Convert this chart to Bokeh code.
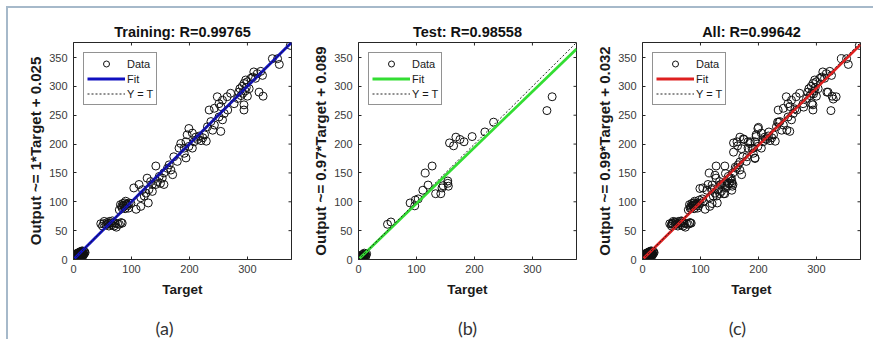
from bokeh.plotting import figure
from bokeh.models import Range1d, FixedTicker, Legend, LegendItem, Label, ColumnDataSource
from bokeh.layouts import row, column
from bokeh.embed import file_html
from bokeh.resources import INLINE

# ---------------- data ----------------
train_target = [0, 1, 1, 2, 2, 3, 3, 4, 4, 5, 5, 6, 6, 7, 7, 8, 8, 9, 9, 10, 10, 11, 11, 12, 12, 13, 13, 14, 14, 15,
                15, 16, 16, 17, 18, 19, 20, 2, 4, 6, 8, 10, 12, 14, 16, 18, 3, 5, 7, 9, 11, 13, 1, 0, 15, 17,
                47, 50, 53, 56, 58, 61, 62, 64, 66, 67, 70, 72, 74, 76, 79, 82, 84, 52, 68, 60,
                79, 81, 84, 85, 87, 88, 89, 90, 91, 93, 95, 96, 99, 86, 92, 83,
                104, 108, 116, 113, 116, 129, 119, 122, 125, 127, 130, 133, 136, 136, 142, 142, 145, 148, 150, 153,
                156, 156, 162, 165, 168, 171, 173, 179, 182, 185, 191, 191, 194, 194, 196, 199, 199, 205, 205, 208,
                211, 214, 217, 220, 223, 226, 229, 231, 234, 237, 240, 243, 243, 248, 251, 251, 254, 254, 257, 257,
                260, 265, 266, 271, 277, 283, 285, 287, 289, 291, 292, 294, 294, 294, 296, 297, 298, 300, 300, 303,
                306, 309, 311, 314, 317, 320, 323, 326, 327, 343, 352, 355, 374]
train_output = [1, 0, 3, 2, 5, 1, 4, 3, 6, 2, 5, 4, 8, 3, 6, 5, 9, 4, 7, 6, 10, 5, 9, 8, 11, 7, 10, 9, 12, 8,
                13, 10, 12, 11, 9, 13, 12, 7, 8, 1, 2, 3, 4, 5, 6, 14, 9, 10, 11, 12, 13, 14, 6, 4, 15, 8,
                62, 58, 66, 60, 64, 58, 66, 63, 60, 67, 58, 63, 56, 62, 61, 64, 63, 62, 63, 62,
                86, 95, 89, 97, 92, 98, 88, 101, 95, 93, 89, 98, 97, 94, 96, 92,
                124, 87, 92, 130, 107, 98, 121, 110, 115, 141, 121, 135, 118, 130, 130, 162, 135, 144, 132, 141,
                130, 150, 158, 164, 155, 147, 178, 170, 193, 201, 193, 184, 204, 176, 216, 196, 227, 193, 219, 204,
                212, 208, 214, 206, 211, 216, 205, 230, 259, 239, 224, 233, 262, 282, 270, 247, 222, 265, 276, 242,
                253, 282, 259, 288, 270, 279, 290, 296, 284, 300, 288, 305, 268, 259, 292, 311, 298, 308, 283, 296,
                314, 316, 325, 314, 322, 290, 326, 319, 283, 348, 348, 338, 371]

val_target = [3, 6, 9, 12, 15, 5,
              51, 68, 82, 88, 82,
              99, 105, 120, 120, 125, 128, 134, 140, 143, 148, 151, 154, 157, 160, 163, 168, 171, 174, 180,
              186, 189, 194, 200, 212, 235, 249, 263, 278, 292, 295, 318, 329]
val_output = [4, 3, 6, 10, 9, 8,
              63, 66, 63, 94, 89,
              123, 101, 123, 97, 146, 110, 129, 114, 149, 132, 140, 120, 186, 160, 204, 169, 192, 209, 178,
              204, 192, 175, 229, 209, 238, 224, 261, 264, 270, 287, 290, 278]

test_target = [1, 2, 3, 4, 5, 6, 7, 8, 9, 10, 11, 12, 13, 14, 2, 4, 6, 8, 10, 12, 3, 5, 7, 9,
               50, 56, 89, 97, 98, 103, 111, 115, 120, 127, 133, 142, 144, 146, 154, 154, 155,
               157, 164, 168, 175, 182, 196, 218, 233, 325, 334]
test_output = [2, 1, 3, 2, 5, 4, 6, 5, 7, 6, 8, 9, 7, 10, 4, 6, 8, 9, 11, 4, 0, 2, 3, 3,
               61, 65, 98, 93, 103, 105, 120, 150, 129, 162, 114, 114, 124, 128, 132, 136, 127,
               202, 197, 212, 208, 204, 213, 221, 238, 258, 282]

all_target = train_target + val_target + test_target
all_output = train_output + val_output + test_output

titles = ["Training: R=0.99765", "Test: R=0.98558", "All: R=0.99642"]
ylabels = ["Output ~= 1*Target + 0.025", "Output ~= 0.97*Target + 0.089", "Output ~= 0.99*Target + 0.032"]
fit_slope = [1.0, 0.97, 0.99]
fit_intercept = [0.025, 0.089, 0.032]
captions = ["(a)", "(b)", "(c)"]
limits = [0, 376]
x_ticks = [0, 100, 200, 300]
y_ticks = [0, 50, 100, 150, 200, 250, 300, 350]

# ---------------- style ----------------
FONT = "Liberation Sans"
AX = "#262626"
fit_colors = ["#1010c0", "#33dd33", "#de2020"]
widths = [292, 285, 288]
border_left = [65, 58, 57]
cap_x = [91, 109, 95]          # caption centre, px from the frame's left edge
MAIN_H = 300
CAP_H = 31


def panel(i, tx, ty):
    p = figure(width=widths[i], height=MAIN_H,
               x_range=Range1d(*limits), y_range=Range1d(*limits),
               output_backend="svg", toolbar_location=None,
               min_border_left=border_left[i], min_border_right=widths[i] - border_left[i] - 218,
               min_border_top=34, min_border_bottom=MAIN_H - 34 - 217)
    p.grid.visible = False
    p.outline_line_color = AX
    p.outline_line_width = 1
    p.outline_line_alpha = 1

    p.title.text = titles[i]
    p.title.align = "center"
    p.title.text_font = FONT
    p.title.text_font_size = "14.5px"
    p.title.text_font_style = "bold"
    p.title.text_color = "#111111"
    p.title.standoff = 6

    for ax in (p.xaxis[0], p.yaxis[0]):
        ax.major_tick_in = 3
        ax.major_tick_out = 0
        ax.minor_tick_line_color = None
        ax.axis_line_color = AX
        ax.major_tick_line_color = AX
        ax.major_label_text_font = FONT
        ax.major_label_text_font_size = "11px"
        ax.major_label_text_color = "#3a3a3a"
        ax.axis_label_text_font = FONT
        ax.axis_label_text_font_style = "bold"
        ax.axis_label_text_color = "#1a1a1a"
    p.xaxis[0].ticker = FixedTicker(ticks=x_ticks)
    p.yaxis[0].ticker = FixedTicker(ticks=y_ticks)
    p.xaxis[0].axis_label = "Target"
    p.xaxis[0].axis_label_text_font_size = "13.5px"
    p.xaxis[0].major_label_standoff = 5
    p.xaxis[0].axis_label_standoff = 6
    p.yaxis[0].axis_label = ylabels[i]
    p.yaxis[0].axis_label_text_font_size = "15px"
    p.yaxis[0].major_label_standoff = 6
    p.yaxis[0].axis_label_standoff = 2

    # inward tick marks on the top and right edges (box axes)
    p.ray(x=x_ticks, y=[limits[1]] * len(x_ticks), length=3, length_units="screen",
          angle=-90, angle_units="deg", line_color=AX, line_width=1)
    p.ray(x=[limits[1]] * len(y_ticks), y=y_ticks, length=3, length_units="screen",
          angle=180, angle_units="deg", line_color=AX, line_width=1)

    src = ColumnDataSource(dict(x=tx, y=ty))
    r_data = p.scatter("x", "y", source=src, marker="circle", size=8,
                       fill_color=None, line_color="#111111", line_width=1)
    fx = [limits[0], limits[1]]
    fy = [fit_slope[i] * v + fit_intercept[i] for v in fx]
    r_fit = p.line(fx, fy, line_color=fit_colors[i], line_width=2.8)
    r_yt = p.line(fx, fx, line_color="#222222", line_width=1, line_dash="2 2")

    legend = Legend(items=[LegendItem(label="Data", renderers=[r_data]),
                           LegendItem(label="Fit", renderers=[r_fit]),
                           LegendItem(label="Y = T", renderers=[r_yt])],
                    location="top_left", margin=10, padding=3, spacing=0,
                    glyph_width=38, glyph_height=15, label_height=15, label_standoff=2,
                    label_text_font=FONT, label_text_font_size="11px", label_text_color="#1a1a1a",
                    border_line_color=AX, border_line_width=1, background_fill_alpha=1)
    p.add_layout(legend)
    return p


def caption(i):
    c = figure(width=widths[i], height=CAP_H, x_range=Range1d(0, 1), y_range=Range1d(0, 1),
               x_axis_type=None, y_axis_type=None, output_backend="svg", toolbar_location=None,
               min_border=0)
    c.grid.visible = False
    c.outline_line_color = None
    c.add_layout(Label(x=cap_x[i], y=12, x_units="screen", y_units="screen", text=captions[i],
                       text_align="center", text_baseline="middle", text_font="Lato",
                       text_font_size="18px", text_color="#333333"))
    return c


panels = [panel(0, train_target, train_output),
          panel(1, test_target, test_output),
          panel(2, all_target, all_output)]
caps = [caption(i) for i in range(3)]

lay = row(*[column(panels[i], caps[i], spacing=0) for i in range(3)],
          margin=(6, 0, 0, 6), spacing=0,
          styles={"border-left": "2px solid #a6b9ca", "border-top": "2px solid #a6b9ca"})

open("out.html", "w").write(file_html(lay, INLINE))
